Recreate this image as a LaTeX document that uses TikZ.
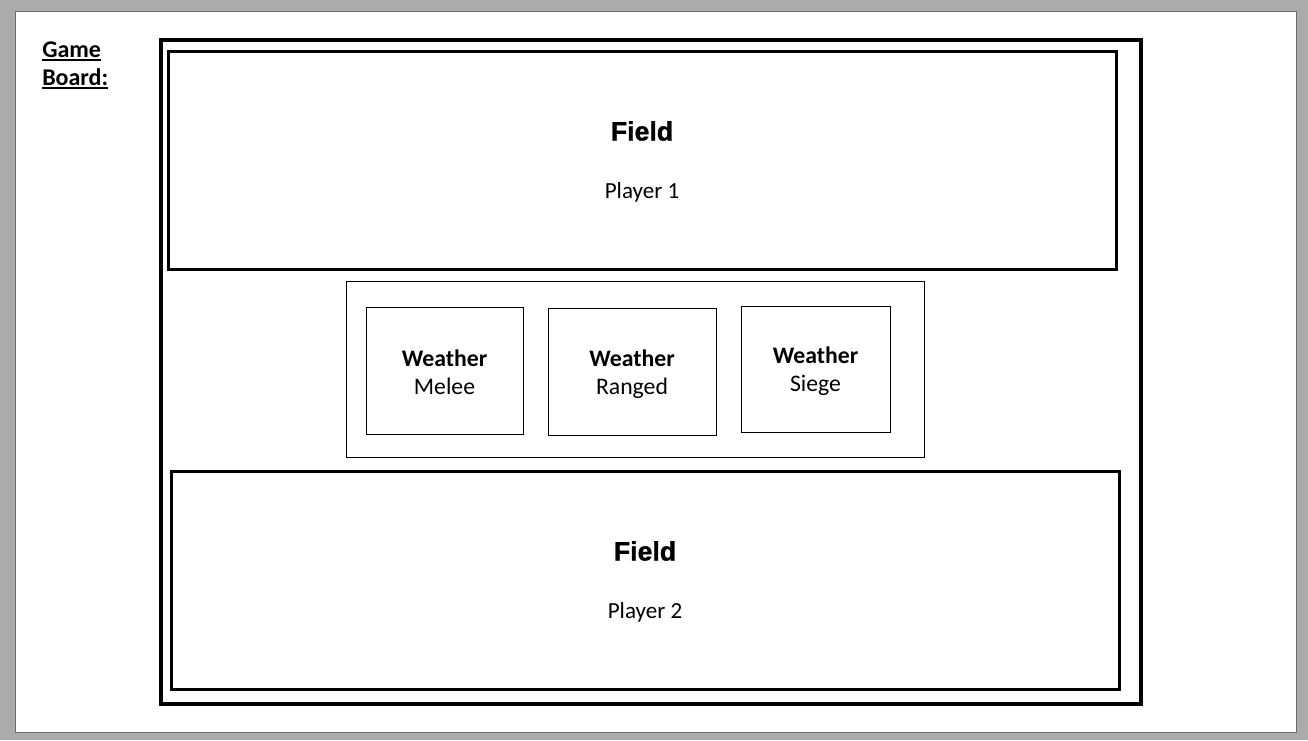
\documentclass[tikz,border=0pt]{standalone}
\usepackage{fontspec}
\setmainfont{Carlito}
\newfontface\fieldfont[FakeBold=1.2]{Liberation Sans Bold}
\definecolor{bggray}{HTML}{ABABAB}
\definecolor{edgegray}{HTML}{6A6A6A}
\begin{document}
\begin{tikzpicture}[x=0.75pt,y=-0.75pt,
  thickbox/.style={draw, line width=3pt, inner sep=0pt},
  fieldbox/.style={draw, line width=2.25pt, inner sep=0pt, minimum width=711pt, minimum height=163.5pt},
  thinbox/.style={draw, line width=0.75pt, inner sep=0pt},
  wbox/.style={draw, line width=0.75pt, inner sep=0pt, minimum width=117pt, minimum height=95pt},
  wtext/.style={align=center, inner sep=0pt, font=\fontsize{17.8}{21}\selectfont},
  fieldtitle/.style={font=\fieldfont\fontsize{20}{24}\selectfont},
  playertext/.style={font=\fontsize{17.3}{21}\selectfont},
  gbtext/.style={font=\bfseries\fontsize{18}{22}\selectfont, anchor=base west, inner sep=0pt}
]
\useasboundingbox (0,0) rectangle (1308,740);
\fill[bggray] (0,0) rectangle (1308,740);
\filldraw[fill=white, draw=edgegray, line width=0.75pt] (15,11) rectangle (1296,732);

\node[gbtext] (game) at (42,57) {Game};
\node[gbtext] (board) at (42,85) {Board:};
\draw[line width=1.5pt] ([yshift=-2.5pt]game.base west) -- ([yshift=-2.5pt]game.base east);
\draw[line width=1.5pt] ([yshift=-2.5pt]board.base west) -- ([yshift=-2.5pt]board.base east);

\node[thickbox, minimum width=735pt, minimum height=498pt] (outer) at (651,372) {};

\node[fieldbox] (field1) at (642,160) {};
\node[fieldtitle] (f1title) at (642,131) {Field};
\node[playertext] (p1) at (642,192) {Player 1};

\node[fieldbox] (field2) at (645,580) {};
\node[fieldtitle] (f2title) at (645,551) {Field};
\node[playertext] (p2) at (645,612) {Player 2};

\node[thinbox, minimum width=433.5pt, minimum height=132pt] (weather) at (635,369) {};

\node[wbox, minimum width=117.75pt, minimum height=95.25pt] (melee) at (444.5,370.5) {};
\node[wtext] (meleet) at (444.5,372) {\textbf{Weather}\\Melee};
\node[wbox, minimum width=126pt, minimum height=95.25pt] (ranged) at (632,371.5) {};
\node[wtext] (rangedt) at (632,374) {\textbf{Weather}\\Ranged};
\node[wbox, minimum width=111.75pt, minimum height=94.5pt] (siege) at (815.5,369) {};
\node[wtext] (sieget) at (815.5,371) {\textbf{Weather}\\Siege};
\end{tikzpicture}
\end{document}
